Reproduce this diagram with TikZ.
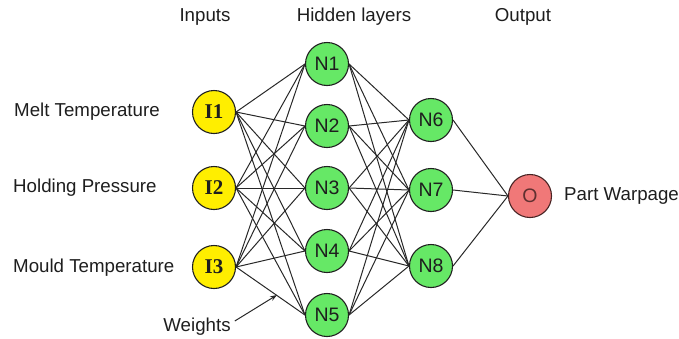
\documentclass[tikz,border=0pt]{standalone}
\usepackage{fontspec}
\setmainfont{Liberation Sans}
\newfontfamily\serifnode{Liberation Serif}
\usetikzlibrary{arrows.meta}
\definecolor{inyel}{RGB}{255,238,0}
\definecolor{hidgrn}{RGB}{102,232,102}
\definecolor{outred}{RGB}{240,120,120}
\definecolor{txt}{RGB}{30,30,30}
\definecolor{edge}{RGB}{40,40,40}
\tikzset{
  neuron/.style={circle,draw=edge!80!black,line width=1.1pt,minimum size=43pt,inner sep=0pt,text=txt},
  inneuron/.style={neuron,fill=inyel,font=\serifnode\bfseries\fontsize{21}{21}\selectfont},
  hidneuron/.style={neuron,fill=hidgrn,font=\fontsize{19.5}{19.5}\selectfont},
  outneuron/.style={neuron,fill=outred,draw=black!70!outred,font=\fontsize{19.5}{19.5}\selectfont,text=black!60!outred},
  lab/.style={font=\fontsize{18.7}{18.7}\selectfont,text=txt,inner sep=0pt},
  conn/.style={draw=edge,line width=1pt}
}
\begin{document}
\begin{tikzpicture}[x=1pt,y=-1pt]
\useasboundingbox (0,0) rectangle (679,338);
% nodes
\node[inneuron] (I1) at (214,112) {I1};
\node[inneuron] (I2) at (214,188) {I2};
\node[inneuron] (I3) at (214,267) {I3};
\node[hidneuron] (N1) at (327,64) {N1};
\node[hidneuron] (N2) at (327,126) {N2};
\node[hidneuron] (N3) at (327,188) {N3};
\node[hidneuron] (N4) at (327,251) {N4};
\node[hidneuron] (N5) at (327,315) {N5};
\node[hidneuron] (N6) at (431,120) {N6};
\node[hidneuron] (N7) at (431,190) {N7};
\node[hidneuron] (N8) at (431,266) {N8};
\node[outneuron] (O) at (530,196) {O};
% connectors
\foreach \i in {I1,I2,I3}{
  \foreach \n in {N1,N2,N3,N4,N5}{
    \draw[conn] (\i.east) -- (\n.west);
  }
}
\foreach \n in {N1,N2,N3,N4,N5}{
  \foreach \m in {N6,N7,N8}{
    \draw[conn] (\n.east) -- (\m.west);
  }
}
\foreach \m in {N6,N7,N8}{
  \draw[conn] (\m.east) -- (O.west);
}
% labels
\node[lab] (tin) at (205,17) {Inputs};
\node[lab] (thid) at (354,17) {Hidden layers};
\node[lab] (tout) at (523,17) {Output};
\node[lab,anchor=west] (l1) at (14,112) {Melt Temperature};
\node[lab,anchor=west] (l2) at (13,188) {Holding Pressure};
\node[lab,anchor=west] (l3) at (13,268) {Mould Temperature};
\node[lab,anchor=west] (l4) at (564,196) {Part Warpage};
\node[lab] (w) at (197,327) {Weights};
\coordinate (wt) at (277,295);
\draw[draw=edge,line width=1pt,-{Stealth[length=7pt,width=5pt]}] (w.east) ++(4,-6) coordinate (ws) (ws) -- (wt);
\end{tikzpicture}
\end{document}
